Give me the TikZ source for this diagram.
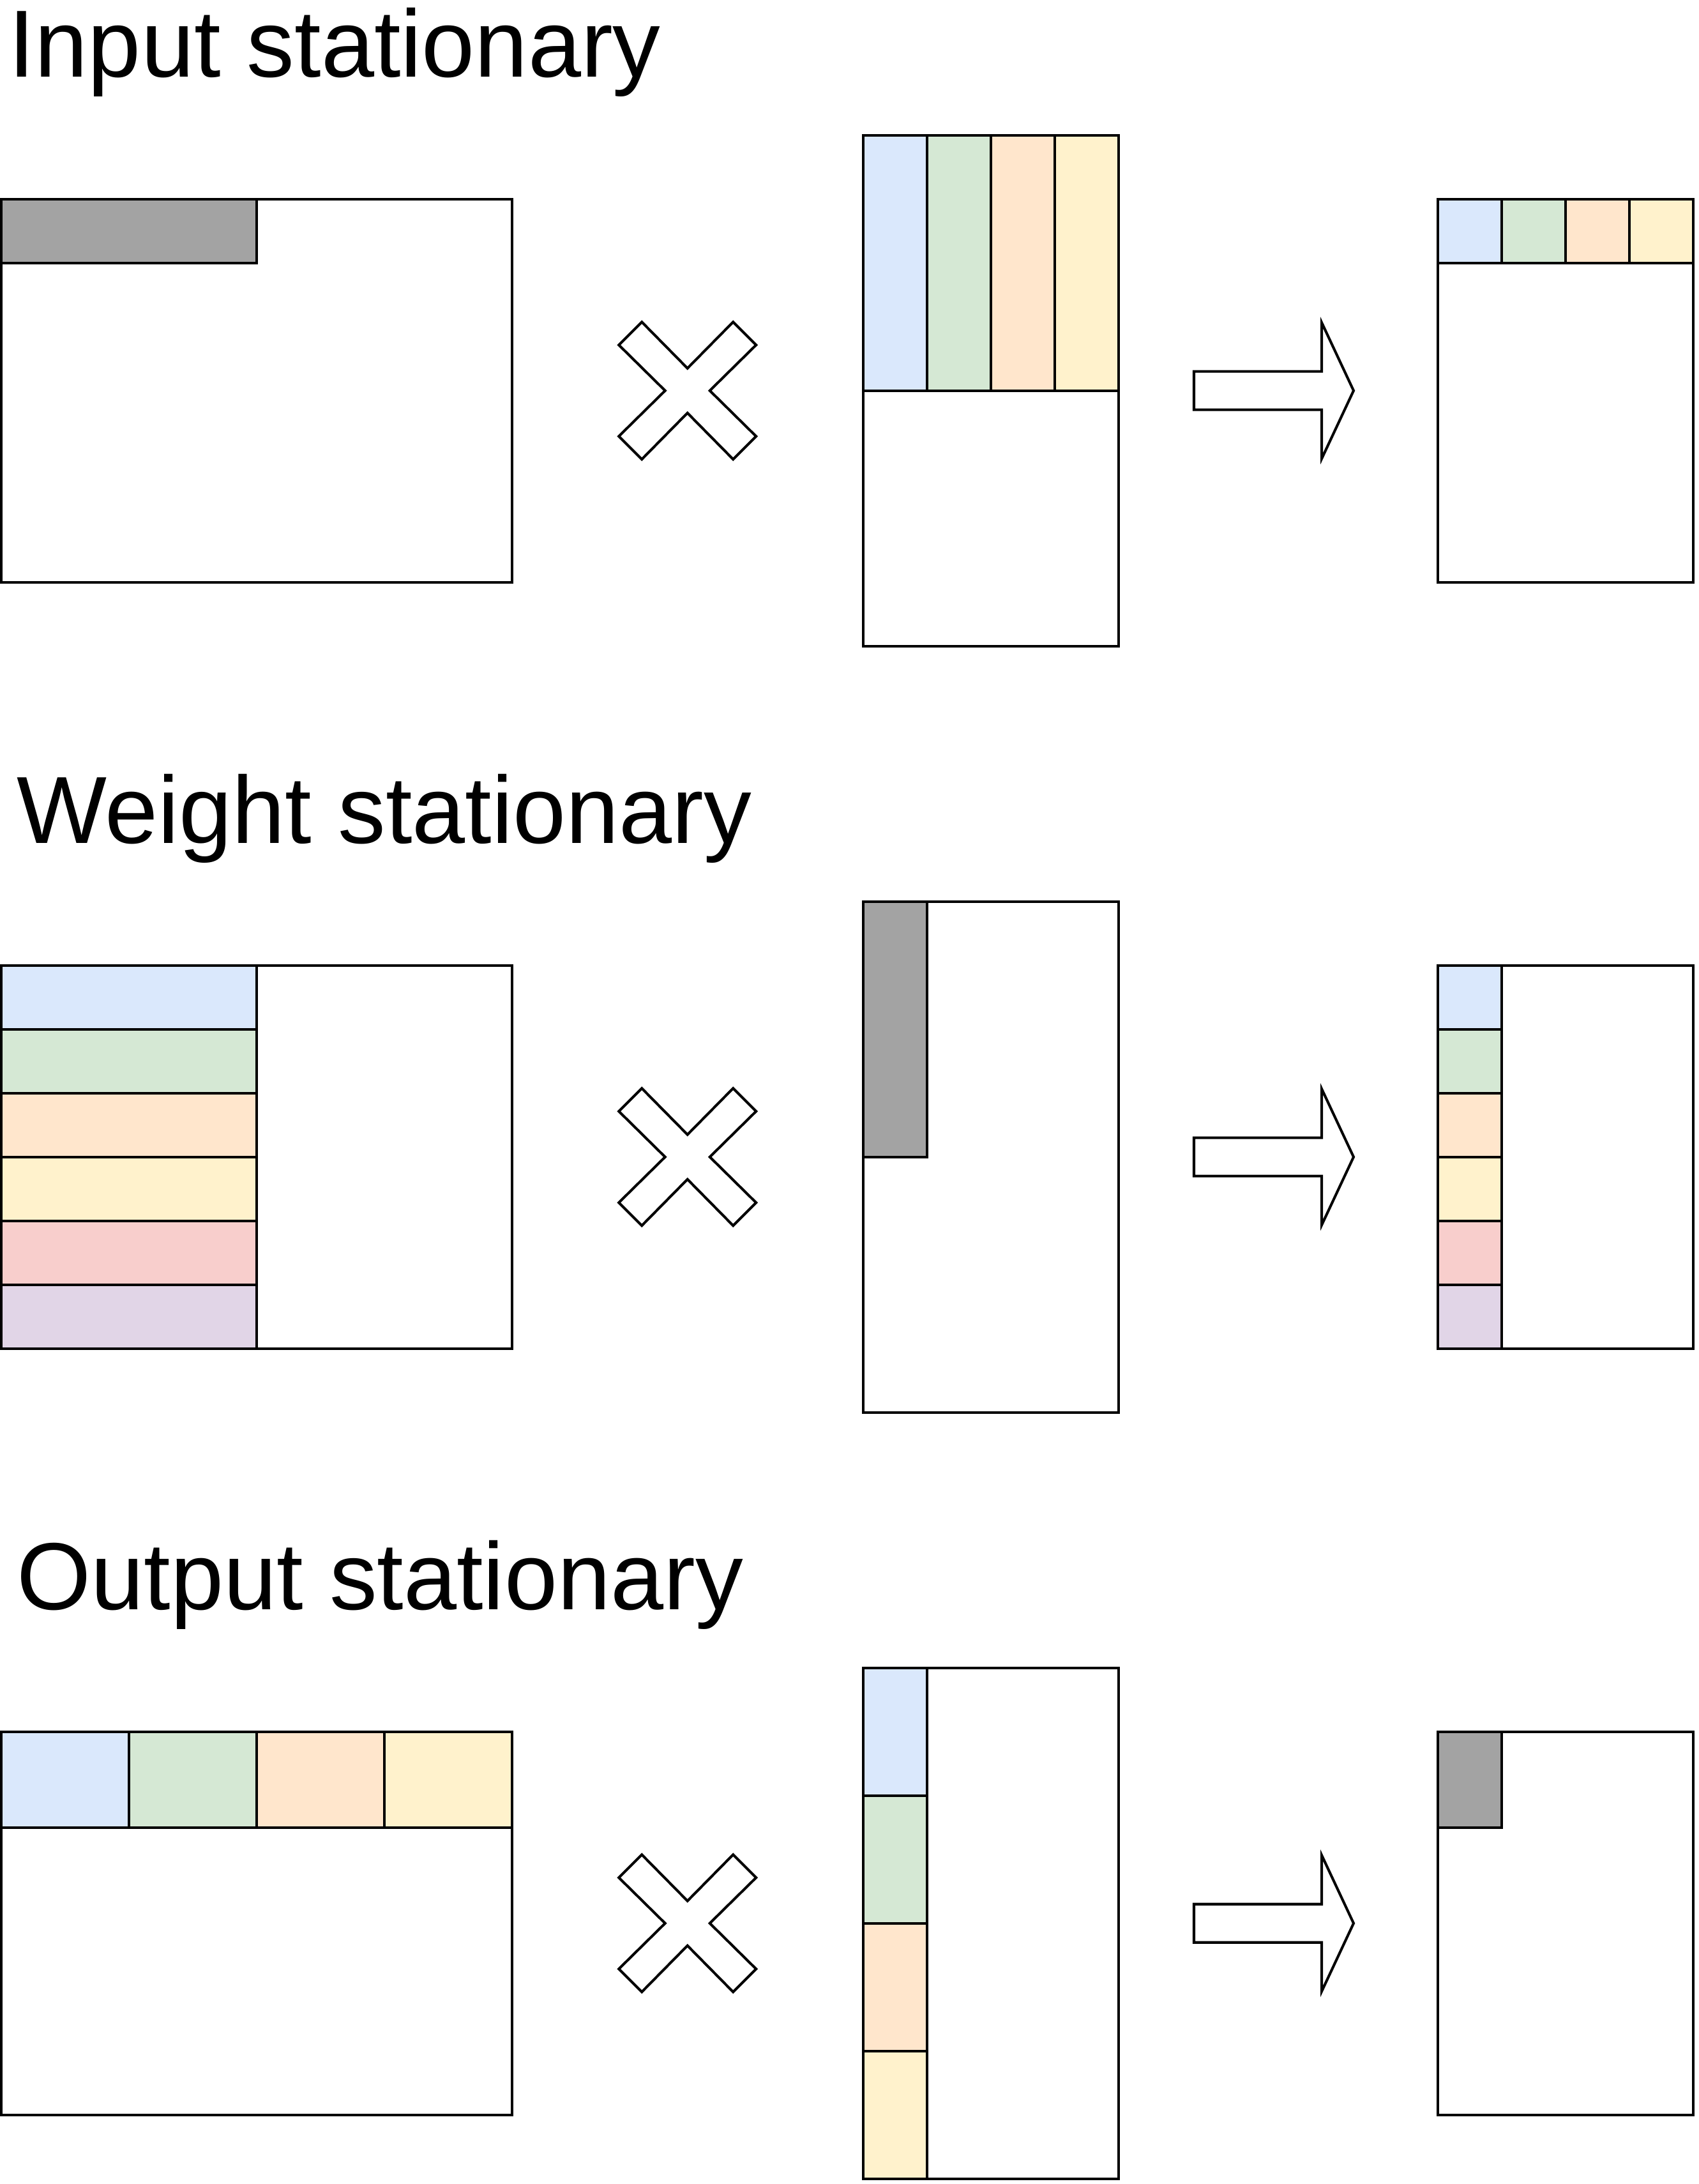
\documentclass[tikz,border=0pt]{standalone}
\usepackage{fontspec}
\setmainfont{Liberation Sans}
\usepackage{xcolor}
\usepackage{tikz}

\definecolor{matBlue}{HTML}{DAE8FC}
\definecolor{matGreen}{HTML}{D5E8D4}
\definecolor{matOrange}{HTML}{FFE6CC}
\definecolor{matYellow}{HTML}{FFF2CC}
\definecolor{matRed}{HTML}{F8CECC}
\definecolor{matPurple}{HTML}{E1D5E7}
\definecolor{matGray}{HTML}{A3A3A3}

\begin{document}
\begin{tikzpicture}[
        x=1cm, y=-1cm,
        matrixBox/.style={draw=black, line width=1.15pt, fill=white},
        cell/.style={draw=black, line width=1.15pt},
        tile/.style={cell, fill=matGray},
        opSymbol/.style={draw=black, line width=1.15pt, fill=white, line join=miter},
        title/.style={anchor=base west, inner sep=0pt, font=\fontsize{42.5}{51}\selectfont}
    ]
        \useasboundingbox (0,0) rectangle (26.6,34.2);

        % ========== INPUT STATIONARY (Top) ==========
        \node[title] (titleInput) at (0.127,1.20) {Input stationary};
        \draw[matrixBox] (0.017,3.117) rectangle (8.017,9.117);
        \draw[tile] (0.017,3.117) rectangle (4.017,4.117);
        \draw[matrixBox] (13.517,2.117) rectangle (17.517,10.117);
        \foreach \c [count=\i from 0] in {matBlue,matGreen,matOrange,matYellow}
            \draw[cell, fill=\c] (13.517+\i,2.117) rectangle ++(1,4);
        \draw[matrixBox] (22.517,3.117) rectangle (26.517,9.117);
        \foreach \c [count=\i from 0] in {matBlue,matGreen,matOrange,matYellow}
            \draw[cell, fill=\c] (22.517+\i,3.117) rectangle ++(1,1);

        % ========== WEIGHT STATIONARY (Middle) ==========
        \node[title] (titleWeight) at (0.254,13.20) {Weight stationary};
        \draw[matrixBox] (0.017,15.117) rectangle (8.017,21.117);
        \foreach \c [count=\i from 0] in {matBlue,matGreen,matOrange,matYellow,matRed,matPurple}
            \draw[cell, fill=\c] (0.017,15.117+\i) rectangle ++(4,1);
        \draw[matrixBox] (13.517,14.117) rectangle (17.517,22.117);
        \draw[tile] (13.517,14.117) rectangle (14.517,18.117);
        \draw[matrixBox] (22.517,15.117) rectangle (26.517,21.117);
        \foreach \c [count=\i from 0] in {matBlue,matGreen,matOrange,matYellow,matRed,matPurple}
            \draw[cell, fill=\c] (22.517,15.117+\i) rectangle ++(1,1);

        % ========== OUTPUT STATIONARY (Bottom) ==========
        \node[title] (titleOutput) at (0.257,25.20) {Output stationary};
        \draw[matrixBox] (0.017,27.117) rectangle (8.017,33.117);
        \foreach \c [count=\i from 0] in {matBlue,matGreen,matOrange,matYellow}
            \draw[cell, fill=\c] (0.017+2*\i,27.117) rectangle ++(2,1.5);
        \draw[matrixBox] (13.517,26.117) rectangle (17.517,34.117);
        \foreach \c [count=\i from 0] in {matBlue,matGreen,matOrange,matYellow}
            \draw[cell, fill=\c] (13.517,26.117+2*\i) rectangle ++(1,2);
        \draw[matrixBox] (22.517,27.117) rectangle (26.517,33.117);
        \draw[tile] (22.517,27.117) rectangle (23.517,28.617);

        % ========== TIMES AND RESULT ARROWS ==========
        \foreach \dy in {0,12,24} {
            \draw[opSymbol, shift={(10.767,6.117+\dy)}]
                (0,-0.35) -- (0.715,-1.075) -- (1.075,-0.715) -- (0.35,0)
                -- (1.075,0.715) -- (0.715,1.075) -- (0,0.35) -- (-0.715,1.075)
                -- (-1.075,0.715) -- (-0.35,0) -- (-1.075,-0.715) -- (-0.715,-1.075) -- cycle;
            \draw[opSymbol, shift={(0,\dy)}]
                (18.70,5.817) -- (20.70,5.817) -- (20.70,5.05) -- (21.20,6.117)
                -- (20.70,7.184) -- (20.70,6.417) -- (18.70,6.417) -- cycle;
        }

    \end{tikzpicture}
\end{document}
